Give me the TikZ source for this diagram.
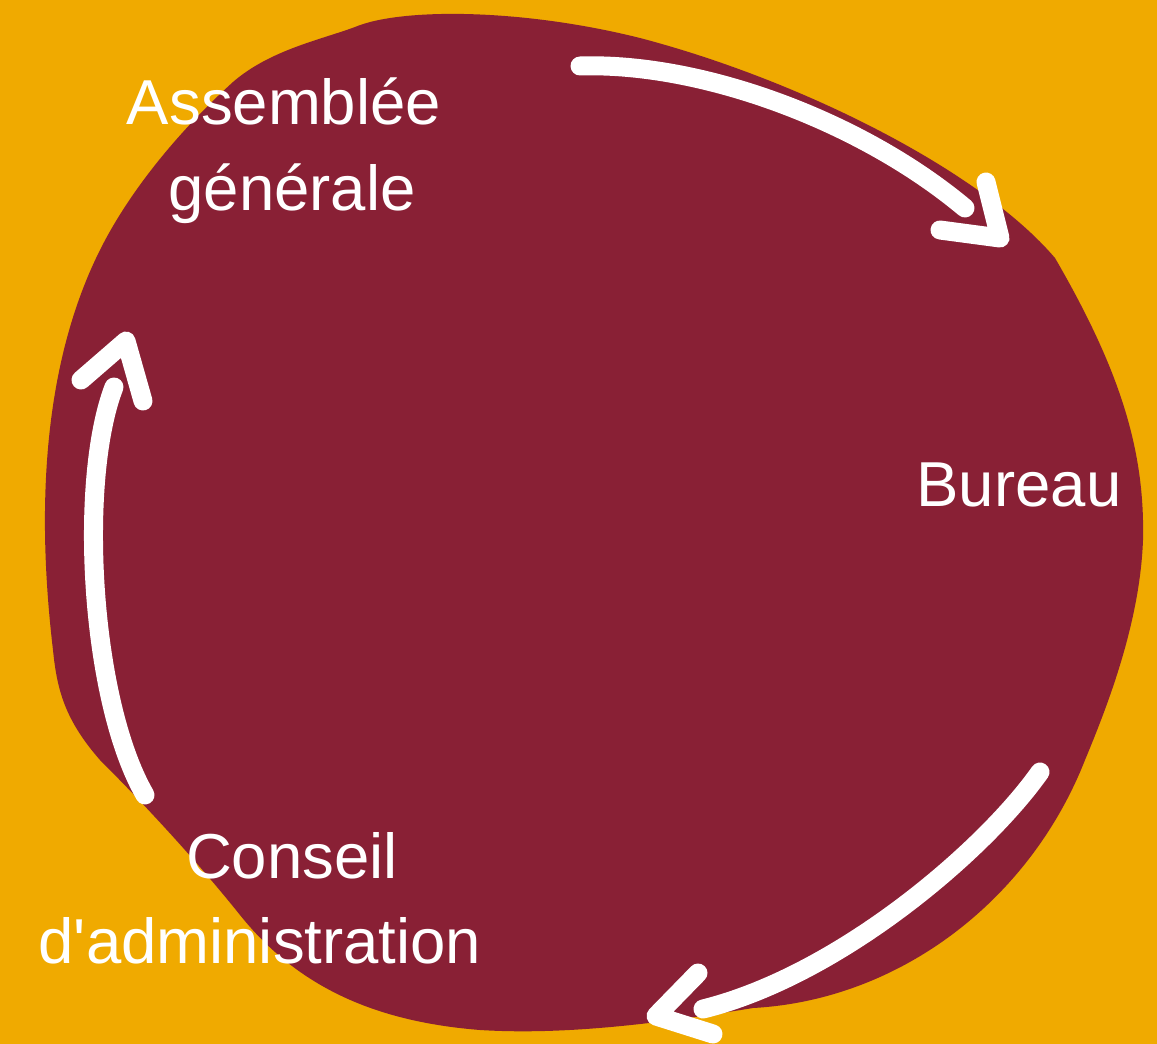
\documentclass[tikz,border=0pt]{standalone}
\usepackage{fontspec}
\setmainfont{Liberation Sans}
\definecolor{bgorange}{HTML}{F0AA00}
\definecolor{blob}{HTML}{892035}
\begin{document}
\begin{tikzpicture}[x=1pt,y=-1pt,
  lbl/.style={text=white,font=\fontsize{63.5}{76}\selectfont,inner sep=0pt,anchor=base},
  flow/.style={draw=white,line width=19pt,line cap=round,line join=round}]
\fill[bgorange] (0,0) rectangle (1157,1044);
\useasboundingbox (0,0) rectangle (1157,1044);
\fill[blob] (355,27) .. controls (400,8) and (520,8) .. (640,38)
  .. controls (800,80) and (980,170) .. (1055,258)
  .. controls (1120,370) and (1145,450) .. (1143,540)
  .. controls (1140,620) and (1110,700) .. (1085,760)
  .. controls (1030,900) and (900,1000) .. (753,1008)
  .. controls (650,1025) and (560,1035) .. (480,1030)
  .. controls (380,1022) and (300,990) .. (240,915)
  .. controls (200,865) and (150,810) .. (100,760)
  .. controls (65,720) and (57,690) .. (53,650)
  .. controls (40,540) and (35,380) .. (100,250)
  .. controls (130,190) and (180,130) .. (233,82)
  .. controls (270,50) and (320,40) .. (355,27) -- cycle;
% labels
\node[lbl] (ag1) at (284,124) {Assemblée};
\node[lbl] (ag2) at (292,210) {générale};
\node[lbl] (bur) at (1019,506) {Bureau};
\node[lbl] (ca1) at (292,878) {Conseil};
\node[lbl] (ca2) at (260,963) {d\textquotesingle administration};
% arrow end points
\coordinate (a1s) at (580,66);
\coordinate (a1e) at (965,208);
\coordinate (h1a) at (986,182);
\coordinate (h1t) at (1000,238);
\coordinate (h1b) at (940,230);
\coordinate (a2s) at (1040,772);
\coordinate (a2e) at (703,1009);
\coordinate (h2a) at (698,973);
\coordinate (h2t) at (656,1016);
\coordinate (h2b) at (713,1034);
\coordinate (a3s) at (145,795);
\coordinate (a3e) at (114,387);
\coordinate (h3a) at (81,380);
\coordinate (h3t) at (126,341);
\coordinate (h3b) at (143,401);
% arrows
\draw[flow] (a1s) .. controls (700,62) and (860,120) .. (a1e);
\draw[flow] (h1a) -- (h1t) -- (h1b);
\draw[flow] (a2s) .. controls (985,850) and (840,975) .. (a2e);
\draw[flow] (h2a) -- (h2t) -- (h2b);
\draw[flow] (a3s) .. controls (90,700) and (78,480) .. (a3e);
\draw[flow] (h3a) -- (h3t) -- (h3b);
\end{tikzpicture}
\end{document}
